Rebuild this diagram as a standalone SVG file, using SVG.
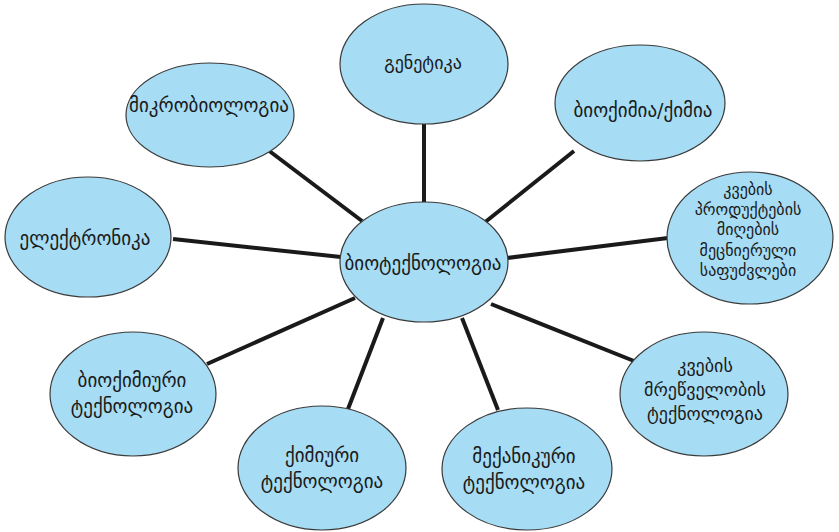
<svg xmlns="http://www.w3.org/2000/svg" width="839" height="532" viewBox="0 0 839 532">
<style>
.n{fill:#a6dcf4;stroke:#3a3a3a;stroke-width:1.2}
.t{font-family:"DejaVu Sans",sans-serif;font-size:19px;fill:#1a1a1a;text-anchor:middle;dominant-baseline:central}
.s{font-size:16px}
.m{font-size:18px}
.c line{stroke:#1a1a1a;stroke-width:4;stroke-linecap:butt}
</style>
<rect width="839" height="532" fill="#fff"/>
<g class="c" id="connectors">
<line x1="424" y1="124" x2="424" y2="203"/>
<line x1="268" y1="150" x2="362" y2="221"/>
<line x1="173" y1="239" x2="341" y2="257"/>
<line x1="574" y1="151" x2="484" y2="223"/>
<line x1="668" y1="238" x2="507" y2="258"/>
<line x1="634" y1="361" x2="491" y2="304"/>
<line x1="498" y1="410" x2="462" y2="318"/>
<line x1="348" y1="409" x2="383" y2="318"/>
<line x1="207" y1="364" x2="355" y2="298"/>
</g>
<g id="n-genetics"><ellipse class="n" cx="424" cy="64" rx="84" ry="60"/><text class="t m" x="423" y="62">გენეტიკა</text></g>
<g id="n-microbiology"><ellipse class="n" cx="210" cy="115" rx="84" ry="52"/><text class="t" x="209" y="105">მიკრობიოლოგია</text></g>
<g id="n-biochemistry"><ellipse class="n" cx="640" cy="103" rx="85" ry="58"/><text class="t" x="643" y="110">ბიოქიმია/ქიმია</text></g>
<g id="n-electronics"><ellipse class="n" cx="88" cy="237" rx="83" ry="60"/><text class="t" x="85" y="238">ელექტრონიკა</text></g>
<g id="n-center"><ellipse class="n" cx="424" cy="262" rx="84" ry="60"/><text class="t" x="423" y="263">ბიოტექნოლოგია</text></g>
<g id="n-foodscience"><ellipse class="n" cx="750" cy="238" rx="83" ry="66"/><text class="t s" x="748"><tspan x="748" y="189">კვების</tspan><tspan x="748" y="209">პროდუქტების</tspan><tspan x="748" y="229">მიღების</tspan><tspan x="748" y="250">მეცნიერული</tspan><tspan x="748" y="270">საფუძვლები</tspan></text></g>
<g id="n-biochemtech"><ellipse class="n" cx="133" cy="394" rx="83" ry="62"/><text class="t"><tspan x="132" y="380">ბიოქიმიური</tspan><tspan x="132" y="406">ტექნოლოგია</tspan></text></g>
<g id="n-foodindustry"><ellipse class="n" cx="704" cy="394" rx="84" ry="62"/><text class="t m"><tspan x="705" y="365">კვების</tspan><tspan x="705" y="389">მრეწველობის</tspan><tspan x="705" y="413">ტექნოლოგია</tspan></text></g>
<g id="n-chemtech"><ellipse class="n" cx="322" cy="468" rx="84" ry="62"/><text class="t"><tspan x="322" y="455">ქიმიური</tspan><tspan x="322" y="481">ტექნოლოგია</tspan></text></g>
<g id="n-mechtech"><ellipse class="n" cx="527" cy="469" rx="85" ry="61"/><text class="t"><tspan x="524" y="456">მექანიკური</tspan><tspan x="524" y="482">ტექნოლოგია</tspan></text></g>
</svg>
